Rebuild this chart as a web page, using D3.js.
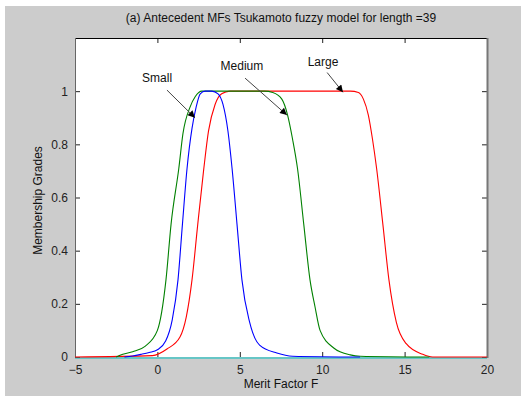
<!DOCTYPE html>
<html>
<head>
<meta charset="utf-8">
<script src="https://cdn.jsdelivr.net/npm/d3@7"></script>
<style>
  body { margin: 0; background: #fff; }
  text { font-family: "Liberation Sans", Arial, sans-serif; }
</style>
</head>
<body>
<svg id="chart" width="532" height="396"></svg>
<script>
// Values
const smallX = [-2, -1.5, -1, -0.5, 0, 0.5, 0.9, 1.25, 1.52, 1.8, 2.1, 2.35, 2.6, 2.9, 3.3, 3.68, 3.98, 4.28, 4.53, 4.83, 5.13, 5.6, 6.2, 7.25, 8.2, 12.3];
const smallY = [0, 0.004, 0.01, 0.017, 0.027, 0.06, 0.14, 0.29, 0.5, 0.71, 0.86, 0.94, 0.99, 1, 1, 0.99, 0.95, 0.85, 0.71, 0.5, 0.29, 0.13, 0.045, 0.015, 0.003, 0];

const mediumX = [-2.5, -2.1, -1.5, -0.75, 0, 0.52, 0.83, 1.3, 1.55, 1.98, 2.3, 2.7, 3.5, 5, 6.5, 7.0, 7.55, 7.9, 8.2, 8.5, 8.88, 9.26, 9.56, 9.87, 10.7, 11.7, 12.3, 16.5];
const mediumY = [0, 0.01, 0.02, 0.04, 0.10, 0.29, 0.5, 0.71, 0.84, 0.94, 0.98, 1, 1, 1, 1, 0.995, 0.97, 0.91, 0.82, 0.71, 0.5, 0.29, 0.19, 0.10, 0.034, 0.008, 0.003, 0];

const largeX = [-5, -0.3, 0.58, 1.37, 1.75, 2.1, 2.45, 2.8, 3.1, 3.5, 3.9, 4.4, 6, 9, 11.7, 12.2, 12.5, 12.8, 13.05, 13.3, 13.68, 14.05, 14.5, 15.1, 16.1, 16.7, 20];
const largeY = [0, 0.005, 0.03, 0.075, 0.15, 0.29, 0.5, 0.7, 0.85, 0.95, 0.99, 1, 1, 1, 1, 0.995, 0.97, 0.91, 0.82, 0.71, 0.5, 0.29, 0.13, 0.05, 0.01, 0, 0];

const baseX = [-5, 20];
const baseY = [0, 0];

const xTicks = [-5, 0, 5, 10, 15, 20];
const yTicks = [0, 0.2, 0.4, 0.6, 0.8, 1];

// label text, label anchor point, arrow tail, arrow head (data units)
const notes = [
  { text: "Small",  tx: -0.02, ty: 1.05,  x1: 0.58,  y1: 1.004, x2: 2.28,  y2: 0.90 },
  { text: "Medium", tx: 5.13,  ty: 1.094, x1: 5.32,  y1: 1.049, x2: 7.86,  y2: 0.91 },
  { text: "Large",  tx: 10.05, ty: 1.109, x1: 10.3,  y1: 1.07,  x2: 11.26, y2: 0.996 }
];

const svg = d3.select("#chart");

// figure background
svg.append("rect").attr("x", 5).attr("y", 6).attr("width", 516).attr("height", 390).attr("fill", "#cccccc");

const plot = { left: 75, right: 487, top: 38, bottom: 357 };
const x = d3.scaleLinear().domain([-5, 20]).range([plot.left, plot.right]);
const y = d3.scaleLinear().domain([0, 1.2]).range([plot.bottom, plot.top]);

svg.append("rect")
  .attr("x", plot.left).attr("y", plot.top)
  .attr("width", plot.right - plot.left).attr("height", plot.bottom - plot.top)
  .attr("fill", "#fff");

// axes, ticks inside
const xAxisB = svg.append("g").attr("transform", `translate(0,${plot.bottom})`)
  .call(d3.axisBottom(x).tickValues(xTicks).tickSizeInner(-5).tickSizeOuter(0).tickPadding(8).tickFormat(d3.format("d")));
const xAxisT = svg.append("g").attr("transform", `translate(0,${plot.top})`)
  .call(d3.axisTop(x).tickValues(xTicks).tickSizeInner(-5).tickSizeOuter(0).tickFormat(""));
const yAxisL = svg.append("g").attr("transform", `translate(${plot.left},0)`)
  .call(d3.axisLeft(y).tickValues(yTicks).tickSizeInner(-5).tickSizeOuter(0).tickPadding(7).tickFormat(d => d === 0 || d === 1 ? d : d3.format(".1f")(d)));
const yAxisR = svg.append("g").attr("transform", `translate(${plot.right},0)`)
  .call(d3.axisRight(y).tickValues(yTicks).tickSizeInner(-5).tickSizeOuter(0).tickFormat(""));

[xAxisB, xAxisT, yAxisL, yAxisR].forEach(a => {
  a.select(".domain").remove();
  a.selectAll(".tick line").attr("stroke", "#222");
  a.selectAll("text").attr("font-size", "12px").attr("fill", "#222")
    .attr("font-family", "'Liberation Sans', Arial, sans-serif");
});

// box edges
svg.append("line").attr("x1", plot.left).attr("x2", plot.right).attr("y1", plot.top + 0.5).attr("y2", plot.top + 0.5).attr("stroke", "#000");
svg.append("line").attr("x1", plot.left + 0.5).attr("x2", plot.left + 0.5).attr("y1", plot.top).attr("y2", plot.bottom).attr("stroke", "#666");
svg.append("line").attr("x1", plot.right + 0.5).attr("x2", plot.right + 0.5).attr("y1", plot.top).attr("y2", plot.bottom + 1).attr("stroke", "#777").attr("stroke-width", 2);

const line = d3.line().x(d => x(d[0])).y(d => y(d[1])).curve(d3.curveMonotoneX);
const pairs = (xs, ys) => xs.map((v, i) => [v, ys[i]]);

svg.append("path").datum(pairs(baseX, baseY))
  .attr("d", line).attr("transform", "translate(0,1)")
  .attr("fill", "none").attr("stroke", "#00bfbf").attr("stroke-width", 1.2);

const series = [
  { xs: largeX, ys: largeY, color: "#ff0000" },
  { xs: mediumX, ys: mediumY, color: "#008000" },
  { xs: smallX, ys: smallY, color: "#0000ff" }
];
series.forEach(s => {
  svg.append("path").datum(pairs(s.xs, s.ys))
    .attr("d", line)
    .attr("fill", "none").attr("stroke", s.color).attr("stroke-width", 1.1);
});

// annotation arrows
svg.append("defs").append("marker")
  .attr("id", "head").attr("viewBox", "0 0 10 10")
  .attr("refX", 10).attr("refY", 5)
  .attr("markerWidth", 9).attr("markerHeight", 7)
  .attr("markerUnits", "userSpaceOnUse")
  .attr("orient", "auto")
  .append("path").attr("d", "M0,0L10,5L0,10z").attr("fill", "#000");

notes.forEach(n => {
  svg.append("line")
    .attr("x1", x(n.x1)).attr("y1", y(n.y1))
    .attr("x2", x(n.x2)).attr("y2", y(n.y2))
    .attr("stroke", "#444").attr("stroke-width", 1)
    .attr("marker-end", "url(#head)");
  svg.append("text")
    .attr("x", x(n.tx)).attr("y", y(n.ty))
    .attr("text-anchor", "middle").attr("dy", "0.35em")
    .attr("font-size", "12px").attr("fill", "#111")
    .text(n.text);
});

// title and axis labels
svg.append("text").attr("x", (plot.left + plot.right) / 2).attr("y", 22)
  .attr("text-anchor", "middle").attr("font-size", "12px").attr("fill", "#111")
  .text("(a) Antecedent MFs Tsukamoto fuzzy model for length =39");

svg.append("text").attr("x", (plot.left + plot.right) / 2).attr("y", 388)
  .attr("text-anchor", "middle").attr("font-size", "12px").attr("fill", "#111")
  .text("Merit Factor F");

svg.append("text")
  .attr("transform", `translate(42,${(plot.top + plot.bottom) / 2 + 3})rotate(-90)`)
  .attr("text-anchor", "middle").attr("font-size", "12px").attr("fill", "#111")
  .text("Membership Grades");
</script>
</body>
</html>
